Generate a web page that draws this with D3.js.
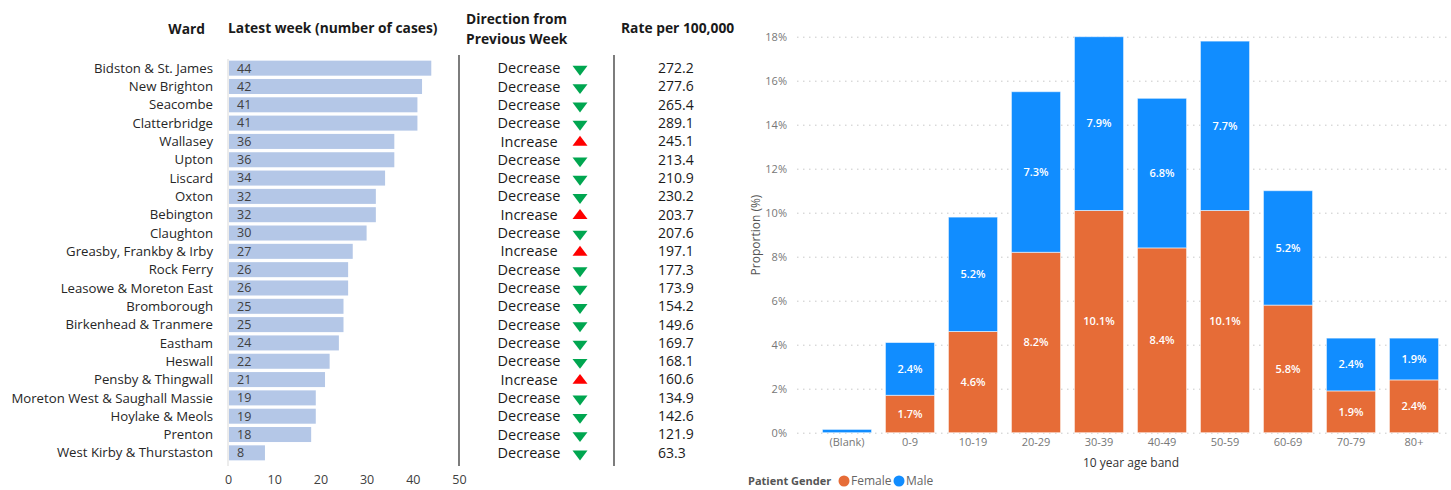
<!DOCTYPE html>
<html>
<head>
<meta charset="utf-8">
<script src="https://cdn.jsdelivr.net/npm/d3@7"></script>
<style>
  body { margin: 0; background: #fff; }
  svg { display: block; }
</style>
</head>
<body>
<div class="chart"></div>
<script>
var svgWidth = 1451;
var svgHeight = 490;

// ward table data
var wards = ["Bidston & St. James", "New Brighton", "Seacombe", "Clatterbridge", "Wallasey", "Upton",
  "Liscard", "Oxton", "Bebington", "Claughton", "Greasby, Frankby & Irby", "Rock Ferry",
  "Leasowe & Moreton East", "Bromborough", "Birkenhead & Tranmere", "Eastham", "Heswall",
  "Pensby & Thingwall", "Moreton West & Saughall Massie", "Hoylake & Meols", "Prenton",
  "West Kirby & Thurstaston"];
var cases = [44, 42, 41, 41, 36, 36, 34, 32, 32, 30, 27, 26, 26, 25, 25, 24, 22, 21, 19, 19, 18, 8];
var direction = ["Decrease", "Decrease", "Decrease", "Decrease", "Increase", "Decrease", "Decrease",
  "Decrease", "Increase", "Decrease", "Increase", "Decrease", "Decrease", "Decrease", "Decrease",
  "Decrease", "Decrease", "Increase", "Decrease", "Decrease", "Decrease", "Decrease"];
var rates = ["272.2", "277.6", "265.4", "289.1", "245.1", "213.4", "210.9", "230.2", "203.7", "207.6",
  "197.1", "177.3", "173.9", "154.2", "149.6", "169.7", "168.1", "160.6", "134.9", "142.6", "121.9", "63.3"];
var caseTicks = [0, 10, 20, 30, 40, 50];

// age band data
var ageBands = ["(Blank)", "0-9", "10-19", "20-29", "30-39", "40-49", "50-59", "60-69", "70-79", "80+"];
var female = [0, 1.7, 4.6, 8.2, 10.1, 8.4, 10.1, 5.8, 1.9, 2.4];
var male = [0.15, 2.4, 5.2, 7.3, 7.9, 6.8, 7.7, 5.2, 2.4, 1.9];
var pctTicks = [0, 2, 4, 6, 8, 10, 12, 14, 16, 18];

var svg = d3.select(".chart")
  .append("svg")
  .attr("width", svgWidth)
  .attr("height", svgHeight);

var tableFont = "'Open Sans', 'Liberation Sans', sans-serif";
var biFont = "'Open Sans', 'Noto Sans', sans-serif";

// ---------------- left: ward table ----------------
var table = svg.append("g").style("font-family", tableFont);

var xCases = d3.scaleLinear().domain([0, 50]).range([228, 459]);
var yWard = d3.scaleBand().domain(wards).range([59, 462]).paddingInner(0.18).paddingOuter(0.09);

// headers
var headers = [
  {t: ["Ward"], x: 205, y: 34, anchor: "end"},
  {t: ["Latest week (number of cases)"], x: 228, y: 33, anchor: "start"},
  {t: ["Direction from", "Previous Week"], x: 466, y: 24, anchor: "start"},
  {t: ["Rate per 100,000"], x: 621, y: 33, anchor: "start"}
];
headers.forEach(function(h) {
  var txt = table.append("text")
    .attr("x", h.x).attr("y", h.y)
    .attr("text-anchor", h.anchor)
    .attr("font-size", 13.8)
    .attr("font-weight", "bold")
    .attr("fill", "#1a1a1a");
  h.t.forEach(function(line, i) {
    txt.append("tspan").attr("x", h.x).attr("dy", i === 0 ? 0 : 20).text(line);
  });
});

// faint bar axis line
table.append("line")
  .attr("x1", 228).attr("x2", 228).attr("y1", 59).attr("y2", 466)
  .attr("stroke", "#d9d9d9");

// dividers
[459, 614].forEach(function(x) {
  table.append("line")
    .attr("x1", x).attr("x2", x).attr("y1", 55).attr("y2", 466)
    .attr("stroke", "#262626").attr("stroke-width", 1.2);
});

var rows = table.selectAll(".row")
  .data(wards)
  .enter()
  .append("g")
  .attr("class", "row");

rows.append("text")
  .attr("x", 213)
  .attr("y", d => yWard(d) + yWard.bandwidth() / 2)
  .attr("dy", "0.35em")
  .attr("text-anchor", "end")
  .attr("font-size", 13.2)
  .attr("fill", "#262626")
  .text(d => d);

rows.append("rect")
  .attr("x", xCases(0) + 1)
  .attr("y", d => yWard(d))
  .attr("width", (d, i) => xCases(cases[i]) - xCases(0) - 1)
  .attr("height", yWard.bandwidth())
  .attr("fill", "#b4c7e7");

rows.append("text")
  .attr("x", 237)
  .attr("y", d => yWard(d) + yWard.bandwidth() / 2)
  .attr("dy", "0.35em")
  .attr("font-size", 12.5)
  .attr("fill", "#404040")
  .text((d, i) => cases[i]);

rows.append("text")
  .attr("x", 529)
  .attr("y", d => yWard(d) + yWard.bandwidth() / 2)
  .attr("dy", "0.35em")
  .attr("text-anchor", "middle")
  .attr("font-size", 14.5)
  .attr("fill", "#1a1a1a")
  .text((d, i) => direction[i]);

var tri = d3.symbol().type(d3.symbolTriangle).size(88);
rows.append("path")
  .attr("d", tri)
  .attr("transform", (d, i) => {
    var cy = yWard(d) + yWard.bandwidth() / 2 + 1;
    return direction[i] === "Increase"
      ? `translate(580, ${cy}) scale(1.05, 0.8)`
      : `translate(580, ${cy}) rotate(180) scale(1.05, 0.8)`;
  })
  .attr("fill", (d, i) => direction[i] === "Increase" ? "#ff0000" : "#00a650");

rows.append("text")
  .attr("x", 658)
  .attr("y", d => yWard(d) + yWard.bandwidth() / 2)
  .attr("dy", "0.35em")
  .attr("font-size", 14)
  .attr("fill", "#1a1a1a")
  .text((d, i) => rates[i]);

var caseAxis = table.append("g")
  .attr("transform", "translate(0, 472)")
  .call(d3.axisBottom(xCases).tickValues(caseTicks).tickSize(0).tickPadding(3));
caseAxis.select(".domain").remove();
caseAxis.selectAll("text")
  .attr("font-family", tableFont)
  .attr("font-size", 12.5)
  .attr("fill", "#404040");

// ---------------- right: age band chart ----------------
var chart = svg.append("g").style("font-family", biFont);

var xAge = d3.scaleBand().domain(ageBands).range([815.5, 1445.5]).paddingInner(0.22).paddingOuter(0.11);
var yPct = d3.scaleLinear().domain([0, 18]).range([432.7, 36.7]);

var grid = chart.append("g")
  .attr("transform", "translate(797, 0)")
  .call(d3.axisLeft(yPct).tickValues(pctTicks).tickSize(-652).tickPadding(10).tickFormat(d => d + "%"));
grid.select(".domain").remove();
grid.selectAll("line")
  .attr("stroke", "#c8c8c8")
  .attr("stroke-dasharray", "1.5,4.5");
grid.selectAll("text")
  .attr("font-family", biFont)
  .attr("font-size", 11)
  .attr("fill", "#777");

var stacks = d3.stack().keys(["female", "male"])(
  ageBands.map((b, i) => ({band: b, female: female[i], male: male[i]}))
);
var colors = {female: "#e66c37", male: "#118dff"};

var layers = chart.selectAll(".layer")
  .data(stacks)
  .enter()
  .append("g")
  .attr("class", "layer")
  .attr("fill", d => colors[d.key]);

layers.selectAll("rect")
  .data(d => d.filter(s => s[1] - s[0] > 0))
  .enter()
  .append("rect")
  .attr("x", d => xAge(d.data.band))
  .attr("width", xAge.bandwidth())
  .attr("y", d => yPct(d[1]))
  .attr("height", d => yPct(d[0]) - yPct(d[1]))
  .attr("stroke", "#ffffff")
  .attr("stroke-opacity", 0.55)
  .attr("stroke-width", 1);

layers.selectAll("text")
  .data(d => d.filter(s => s[1] - s[0] >= 1))
  .enter()
  .append("text")
  .attr("x", d => xAge(d.data.band) + xAge.bandwidth() / 2)
  .attr("y", d => yPct((d[0] + d[1]) / 2))
  .attr("dy", "0.35em")
  .attr("text-anchor", "middle")
  .attr("font-size", 11)
  .attr("font-weight", 600)
  .attr("fill", "#ffffff")
  .text(d => d3.format(".1f")(d[1] - d[0]) + "%");

var ageAxis = chart.append("g")
  .attr("transform", "translate(0, 437)")
  .call(d3.axisBottom(xAge).tickSize(0).tickPadding(1));
ageAxis.select(".domain").remove();
ageAxis.selectAll("text")
  .attr("font-family", biFont)
  .attr("font-size", 11)
  .attr("fill", "#777");

chart.append("text")
  .attr("x", 1131).attr("y", 467)
  .attr("text-anchor", "middle")
  .attr("font-size", 12)
  .attr("fill", "#333")
  .text("10 year age band");

chart.append("text")
  .attr("transform", "translate(760, 235) rotate(-90)")
  .attr("text-anchor", "middle")
  .attr("font-size", 12)
  .attr("fill", "#555")
  .text("Proportion (%)");

// legend
var legend = chart.append("g").attr("transform", "translate(748, 485)");
legend.append("text")
  .attr("x", 0).attr("y", 0)
  .attr("font-size", 11)
  .attr("font-weight", "bold")
  .attr("fill", "#555")
  .text("Patient Gender");
var legendItems = [{k: "female", label: "Female", x: 96}, {k: "male", label: "Male", x: 151}];
legendItems.forEach(function(it) {
  legend.append("circle")
    .attr("cx", it.x).attr("cy", -4).attr("r", 5.5)
    .attr("fill", colors[it.k]);
  legend.append("text")
    .attr("x", it.x + 7).attr("y", 0)
    .attr("font-size", 12)
    .attr("fill", "#666")
    .text(it.label);
});
</script>
</body>
</html>
